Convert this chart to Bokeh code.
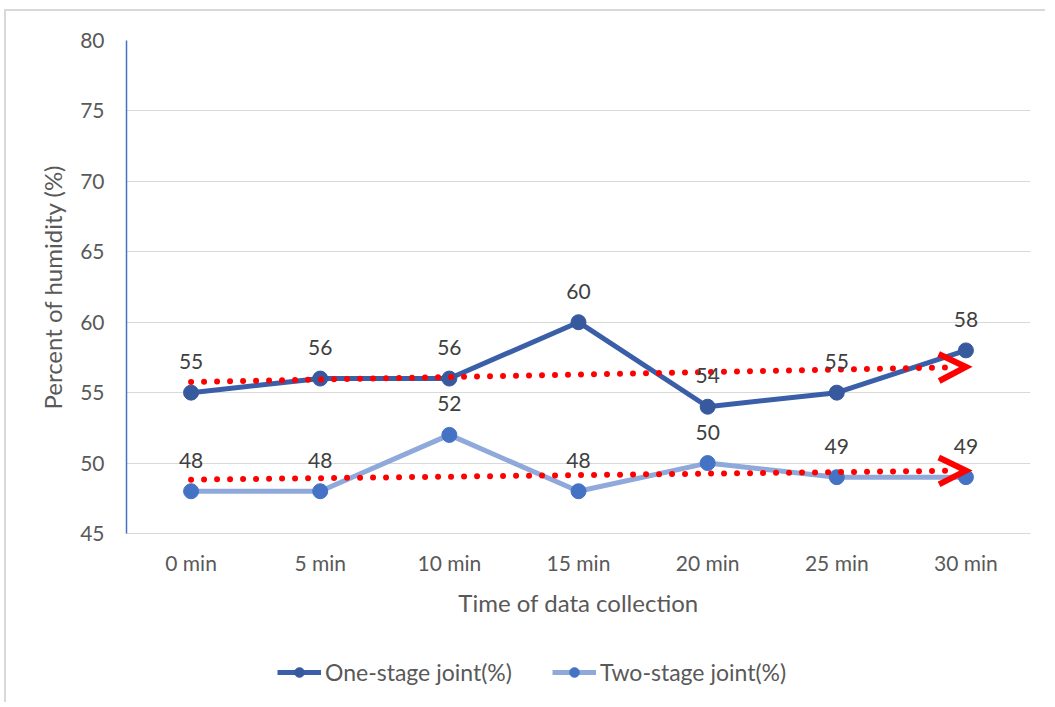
import numpy as np
from bokeh.plotting import figure
from bokeh.layouts import column
from bokeh.core.properties import value
from bokeh.models import (Range1d, FixedTicker, ColumnDataSource, LabelSet, Legend, LegendItem,
                          Arrow, OpenHead)
from bokeh.embed import file_html
from bokeh.resources import INLINE

categories = ["0 min", "5 min", "10 min", "15 min", "20 min", "25 min", "30 min"]
one_stage = [55, 56, 56, 60, 54, 55, 58]
two_stage = [48, 48, 52, 48, 50, 49, 49]
y_ticks = [45, 50, 55, 60, 65, 70, 75, 80]
series_names = ["One-stage joint(%)", "Two-stage joint(%)"]

FONT = "Lato"
ONE_LINE = "#3A5EA8"
ONE_MARK = "#37599E"
TWO_LINE = "#8FA9DA"
TWO_MARK = "#4472C4"

xs = list(range(len(categories)))

p = figure(width=1039, height=612, output_backend="svg", toolbar_location=None,
           x_range=Range1d(-0.5, len(categories) - 0.5), y_range=Range1d(45, 80),
           min_border_left=120, min_border_top=29, min_border_right=15, min_border_bottom=90)
p.outline_line_color = None
p.background_fill_color = "white"

# axes
p.yaxis.ticker = FixedTicker(ticks=y_ticks)
p.xaxis.ticker = FixedTicker(ticks=xs)
p.xaxis.major_label_overrides = {i: c for i, c in enumerate(categories)}
for ax in (p.xaxis[0], p.yaxis[0]):
    ax.major_tick_line_color = None
    ax.minor_tick_line_color = None
    ax.major_tick_out = 0
    ax.major_tick_in = 0
    ax.minor_tick_out = 0
    ax.minor_tick_in = 0
    ax.major_label_text_font = FONT
    ax.major_label_text_font_size = "21px"
    ax.major_label_text_color = "#595959"
    ax.axis_label_text_font = FONT
    ax.axis_label_text_font_size = "24px"
    ax.axis_label_text_color = "#595959"
    ax.axis_label_text_font_style = "normal"
p.yaxis.axis_line_color = "#4472C4"
p.yaxis.axis_line_width = 1.5
p.xaxis.axis_line_color = "#D9D9D9"
p.xaxis.axis_line_width = 1
p.yaxis.major_label_standoff = 22
p.xaxis.major_label_standoff = 16
p.yaxis.axis_label = "Percent of humidity (%)"
p.xaxis.axis_label = "Time of data collection"
p.yaxis.axis_label_standoff = 10
p.xaxis.axis_label_standoff = 10

p.xgrid.grid_line_color = None
p.ygrid.ticker = FixedTicker(ticks=y_ticks)
p.ygrid.grid_line_color = "#D9D9D9"
p.ygrid.grid_line_width = 1

# series
src1 = ColumnDataSource(dict(x=xs, y=one_stage, t=[str(v) for v in one_stage]))
src2 = ColumnDataSource(dict(x=xs, y=two_stage, t=[str(v) for v in two_stage]))

p.line("x", "y", source=src2, line_color=TWO_LINE, line_width=5)
p.scatter("x", "y", source=src2, size=15, fill_color=TWO_MARK, line_color=TWO_MARK)
p.line("x", "y", source=src1, line_color=ONE_LINE, line_width=5)
p.scatter("x", "y", source=src1, size=15, fill_color=ONE_MARK, line_color=ONE_MARK)

# linear trendlines
for vals in (one_stage, two_stage):
    k, b = np.polyfit(xs, vals, 1)
    x0, x1 = xs[0], xs[-1]
    p.line([x0, x1 - 0.15], [k * x0 + b, k * (x1 - 0.15) + b], line_color="red", line_width=6,
           line_dash="0 13", line_cap="round")
    p.add_layout(Arrow(end=OpenHead(size=27, line_color="red", line_width=6, line_join="miter"),
                       x_start=x1 - 0.2, y_start=k * (x1 - 0.2) + b, x_end=x1, y_end=k * x1 + b,
                       line_alpha=0))

# data labels
for src in (src1, src2):
    p.add_layout(LabelSet(x="x", y="y", text="t", source=src, y_offset=31,
                          text_align="center", text_baseline="middle",
                          text_font=value(FONT), text_font_size="21px", text_color="#404040"))

# legend strip below the chart (proxy renderers hold no visible data)
lf = figure(width=1039, height=79, output_backend="svg", toolbar_location=None,
            x_axis_type=None, y_axis_type=None, x_range=Range1d(0, 1), y_range=Range1d(0, 1),
            min_border=0)
lf.outline_line_color = None
lf.xgrid.grid_line_color = None
lf.ygrid.grid_line_color = None
nan = [float("nan")]
a1 = lf.line(x=nan, y=nan, line_color=ONE_LINE, line_width=5)
b1 = lf.scatter(x=nan, y=nan, size=12, fill_color=ONE_MARK, line_color=ONE_MARK)
a2 = lf.line(x=nan, y=nan, line_color=TWO_LINE, line_width=5)
b2 = lf.scatter(x=nan, y=nan, size=12, fill_color=TWO_MARK, line_color=TWO_MARK)
legend = Legend(items=[LegendItem(label=series_names[0], renderers=[a1, b1]),
                       LegendItem(label=series_names[1], renderers=[a2, b2])],
                orientation="horizontal", location=(151, 16))
legend.border_line_color = None
legend.background_fill_alpha = 0
legend.padding = 0
legend.margin = 0
legend.spacing = 40
legend.label_standoff = 4
legend.glyph_width = 44
legend.glyph_height = 24
legend.label_height = 24
legend.label_text_font = FONT
legend.label_text_font_size = "23px"
legend.label_text_color = "#595959"
lf.add_layout(legend, "center")

layout = column(p, lf, spacing=0)
layout.styles = {"border-top": "2px solid #D9D9D9", "border-left": "2px solid #D9D9D9",
                 "margin-left": "4px", "margin-top": "9px"}

open("out.html", "w").write(file_html(layout, INLINE))
